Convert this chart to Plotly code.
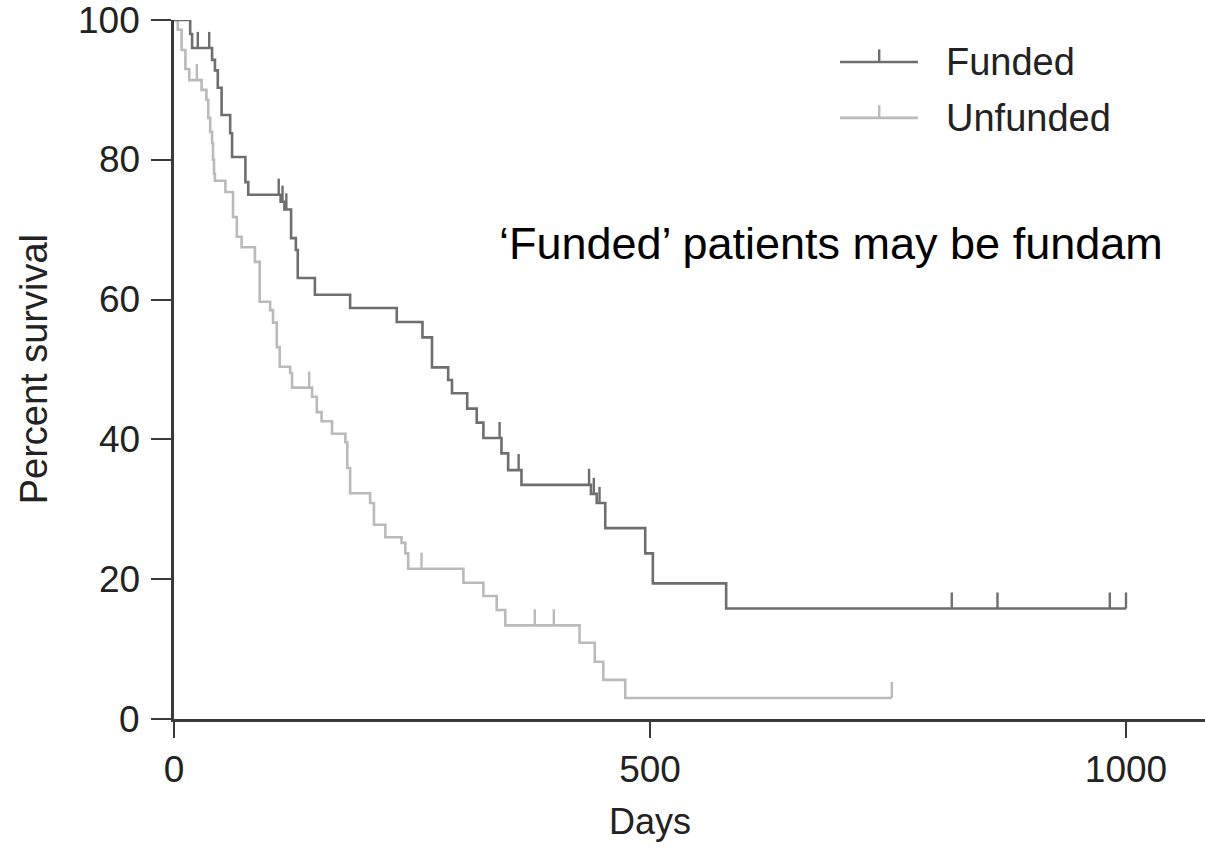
import plotly.graph_objects as go

# ---- data ----
funded_days = [0, 17, 19, 40, 43, 46, 50, 59, 61, 75, 78, 112, 116, 123, 128, 130, 148, 185, 234,
               261, 271, 288, 292, 308, 318, 325, 344, 351, 365, 438, 444, 453, 495, 503, 580, 1000]
funded_pct = [100, 98, 96, 94.3, 92.8, 90.3, 86.4, 83.8, 80.4, 76.8, 75, 74.0, 72.9, 68.8, 67.1, 63.1,
              60.7, 58.8, 56.8, 54.6, 50.3, 48.5, 46.6, 44.4, 42.4, 40.2, 38.0, 35.6, 33.5, 32.2, 30.9,
              27.3, 23.7, 19.4, 15.8, 15.8]
funded_censor = [25, 37, 110, 114, 118, 342, 362, 436, 441, 447, 817, 865, 983, 1000]

unfunded_days = [0, 4, 8, 12, 16, 29, 34, 36, 38, 40, 41, 42, 43, 54, 62, 66, 71, 85, 90, 101, 104,
                 108, 111, 122, 124, 145, 150, 155, 166, 180, 182, 185, 206, 210, 222, 239, 243, 246,
                 304, 325, 339, 348, 426, 442, 451, 474, 754]
unfunded_pct = [100, 98.6, 95.7, 93.0, 91.4, 90.0, 88.6, 86.0, 84.0, 82.4, 80.0, 78.0, 77.0, 75.4,
                71.8, 69.0, 67.5, 65.4, 59.7, 58.5, 56.7, 53.2, 50.4, 49.5, 47.4, 46.1, 43.9, 42.6,
                40.8, 39.6, 35.9, 32.3, 30.9, 27.8, 26.0, 25.2, 23.7, 21.5, 19.5, 17.6, 15.6, 13.4,
                10.9, 8.2, 5.6, 3.0, 3.0]
unfunded_censor = [24, 142, 260, 379, 399, 754]

x_ticks = [0, 500, 1000]
y_ticks = [0, 20, 40, 60, 80, 100]
series_names = ["Funded", "Unfunded"]
note_text = "‘Funded’ patients may be fundam"

DARK = "#6e6e6e"
LIGHT = "#bababa"
AXIS = "#3a3a3a"
TXT = "#222222"
FONT = "Liberation Sans, Arial, Helvetica, sans-serif"
TICK_H = 2.3


def surv_at(days, pct, d):
    v = pct[0]
    for dd, pp in zip(days, pct):
        if dd <= d:
            v = pp
    return v


def censor_xy(days, pct, cens):
    xs, ys = [], []
    for c in cens:
        p = surv_at(days, pct, c)
        xs += [c, c, None]
        ys += [p, p + TICK_H, None]
    return xs, ys


fig = go.Figure()
for days, pct, cens, col in [(unfunded_days, unfunded_pct, unfunded_censor, LIGHT),
                             (funded_days, funded_pct, funded_censor, DARK)]:
    fig.add_trace(go.Scatter(x=days, y=pct, mode="lines", line=dict(color=col, width=2.6, shape="hv"),
                             showlegend=False, hoverinfo="skip", cliponaxis=False))
    cx, cy = censor_xy(days, pct, cens)
    fig.add_trace(go.Scatter(x=cx, y=cy, mode="lines", line=dict(color=col, width=2.4),
                             showlegend=False, hoverinfo="skip", cliponaxis=False))

# custom legend
shapes = []
annotations = []
for i, (name, col) in enumerate(zip(series_names, [DARK, LIGHT])):
    yl = 0.94 - i * 0.08
    shapes.append(dict(type="line", xref="paper", yref="paper", x0=0.646, x1=0.7216, y0=yl, y1=yl,
                       line=dict(color=col, width=2.6)))
    shapes.append(dict(type="line", xref="paper", yref="paper", x0=0.684, x1=0.684, y0=yl, y1=yl + 0.018,
                       line=dict(color=col, width=2.4)))
    annotations.append(dict(text=name, xref="paper", yref="paper", x=0.747, y=yl, xanchor="left",
                            yanchor="middle", showarrow=False, font=dict(family=FONT, size=38, color=TXT)))

annotations.append(dict(text=note_text, xref="paper", yref="paper",
                        x=0.313, y=0.68, xanchor="left", yanchor="middle", showarrow=False,
                        font=dict(family=FONT, size=45, color="#000")))

# y tick labels (as text so the top label is not dropped)
for v in y_ticks:
    annotations.append(dict(text=str(v), xref="paper", yref="y", x=-0.031, y=v, xanchor="right",
                            yanchor="middle", showarrow=False, font=dict(family=FONT, size=37, color=TXT)))

# axis titles
annotations.append(dict(text="Days", xref="x", yref="paper", x=x_ticks[1], y=-0.147, xanchor="center",
                        yanchor="middle", showarrow=False, font=dict(family=FONT, size=36, color=TXT)))
annotations.append(dict(text="Percent survival", xref="paper", yref="paper", x=-0.136, y=0.5,
                        xanchor="center", yanchor="middle", textangle=-90, showarrow=False,
                        font=dict(family=FONT, size=38, color=TXT)))

fig.update_layout(
    width=1205, height=852,
    margin=dict(l=174, r=0, t=20, b=133),
    paper_bgcolor="white", plot_bgcolor="white",
    shapes=shapes, annotations=annotations,
    font=dict(family=FONT, color=TXT),
    xaxis=dict(range=[0, 1083], tickvals=x_ticks, ticks="outside", ticklen=16, tickwidth=2.4,
               tickcolor=AXIS, showline=True, linecolor=AXIS, linewidth=2.6, showgrid=False,
               zeroline=False, tickfont=dict(size=37, family=FONT, color=TXT)),
    yaxis=dict(range=[0, 100], tickvals=y_ticks, ticks="outside", ticklen=20, tickwidth=2.4,
               tickcolor=AXIS, showline=True, linecolor=AXIS, linewidth=2.6, showgrid=False,
               zeroline=False, showticklabels=False),
)

fig.write_html("out.html")
